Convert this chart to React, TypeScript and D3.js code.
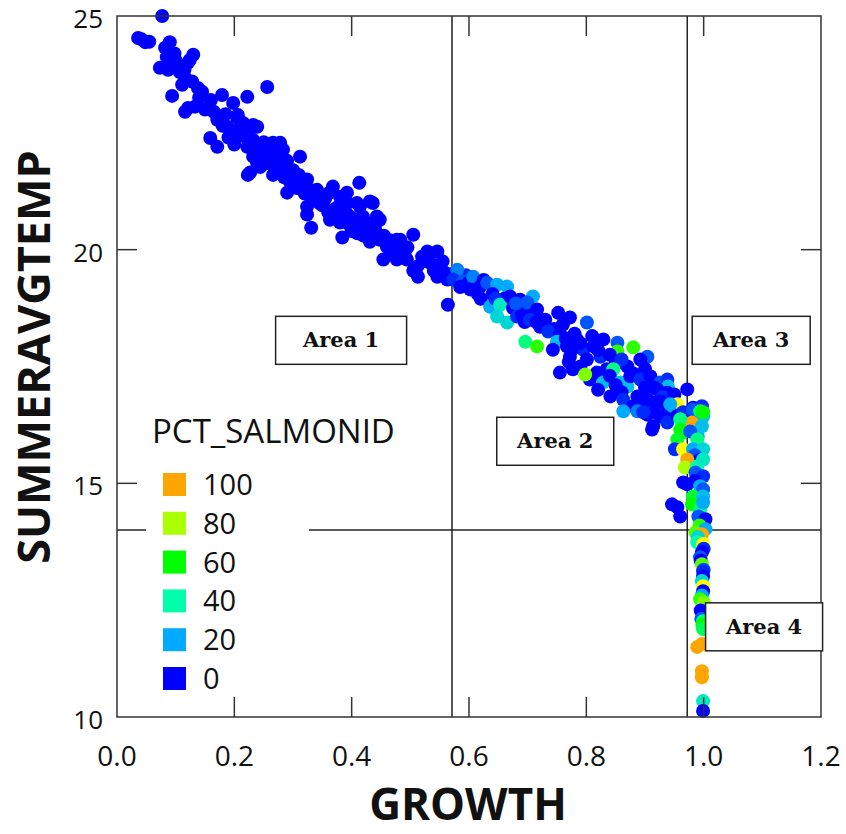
import React from "react";
import { scaleLinear } from "d3";

// growth, summer avg temp, pct salmonid
const upperBand: [number, number, number][] = [
  [0.077, 25.0, 0], [0.036, 24.53, 0], [0.042, 24.5, 0], [0.048, 24.44, 0], [0.055, 24.45, 0],
  [0.09, 24.44, 0], [0.082, 24.32, 0], [0.085, 24.12, 0], [0.098, 24.2, 0], [0.1, 24.05, 0],
  [0.13, 24.17, 0], [0.124, 24.06, 0], [0.073, 23.89, 0], [0.087, 23.85, 0], [0.115, 23.85, 0],
  [0.121, 24.0, 0], [0.105, 23.95, 0], [0.107, 23.8, 0], [0.116, 23.68, 0], [0.128, 23.6, 0],
  [0.138, 23.46, 0], [0.145, 23.38, 0], [0.111, 23.53, 0], [0.094, 23.29, 0], [0.14, 23.25, 0],
  [0.121, 23.03, 0], [0.133, 23.06, 0], [0.116, 22.95, 0], [0.256, 23.48, 0], [0.15, 23.0, 0],
  [0.179, 23.31, 0], [0.198, 23.14, 0], [0.222, 23.27, 0], [0.206, 22.88, 0], [0.165, 22.95, 0],
  [0.185, 22.9, 0], [0.16, 23.2, 0], [0.171, 22.78, 0], [0.188, 22.63, 0], [0.18, 22.65, 0],
  [0.215, 22.71, 0], [0.239, 22.63, 0], [0.205, 22.82, 0], [0.232, 22.67, 0], [0.21, 22.6, 0],
  [0.195, 22.55, 0], [0.159, 22.39, 0], [0.171, 22.2, 0], [0.205, 22.41, 0], [0.19, 22.4, 0],
  [0.215, 22.45, 0], [0.232, 22.35, 0], [0.222, 22.2, 0], [0.244, 22.2, 0], [0.225, 22.45, 0],
  [0.261, 22.2, 0], [0.266, 22.29, 0], [0.278, 22.29, 0], [0.283, 22.14, 0], [0.2, 22.25, 0],
  [0.249, 22.1, 0], [0.261, 22.05, 0], [0.232, 21.99, 0], [0.256, 22.07, 0], [0.235, 22.25, 0],
  [0.273, 21.99, 0], [0.312, 21.99, 0], [0.283, 21.92, 0], [0.249, 21.92, 0], [0.25, 22.3, 0],
  [0.239, 21.85, 0], [0.278, 21.8, 0], [0.227, 21.65, 0], [0.244, 21.77, 0], [0.245, 22.05, 0],
  [0.223, 21.6, 0], [0.266, 21.6, 0], [0.29, 21.65, 0], [0.3, 21.7, 0], [0.255, 21.85, 0],
  [0.3, 21.5, 0], [0.3, 21.35, 0], [0.324, 21.5, 0], [0.315, 21.4, 0], [0.265, 21.9, 0],
  [0.29, 21.22, 0], [0.307, 21.32, 0], [0.329, 21.28, 0], [0.341, 21.28, 0], [0.29, 21.9, 0],
  [0.341, 21.13, 0], [0.324, 20.92, 0], [0.324, 20.75, 0], [0.331, 20.47, 0], [0.27, 21.7, 0],
  [0.368, 21.35, 0], [0.38, 21.13, 0], [0.392, 21.0, 0], [0.355, 21.1, 0], [0.285, 21.55, 0],
  [0.35, 20.95, 0], [0.368, 20.85, 0], [0.363, 20.64, 0], [0.38, 20.58, 0], [0.295, 21.45, 0],
  [0.397, 20.71, 0], [0.414, 20.92, 0], [0.431, 21.03, 0], [0.375, 20.9, 0], [0.31, 21.6, 0],
  [0.39, 20.8, 0], [0.419, 20.71, 0], [0.409, 20.49, 0], [0.413, 21.43, 0], [0.32, 21.2, 0],
  [0.384, 20.26, 0], [0.431, 20.36, 0], [0.448, 20.64, 0], [0.448, 20.21, 0], [0.335, 21.15, 0],
  [0.4, 20.4, 0], [0.42, 20.3, 0], [0.46, 20.06, 0], [0.454, 19.79, 0], [0.345, 21.0, 0],
  [0.477, 20.21, 0], [0.477, 19.79, 0], [0.392, 21.22, 0], [0.409, 21.0, 0], [0.36, 21.2, 0],
  [0.436, 21.0, 0], [0.385, 20.64, 0], [0.443, 20.71, 0], [0.426, 20.36, 0], [0.36, 20.8, 0],
  [0.431, 20.17, 0], [0.37, 20.7, 0], [0.385, 20.95, 0], [0.395, 20.55, 0], [0.405, 20.65, 0],
  [0.41, 20.35, 0], [0.43, 20.55, 0], [0.44, 20.45, 0], [0.455, 20.3, 0], [0.465, 20.2, 0],
  [0.47, 19.95, 0], [0.49, 19.9, 0],
];

const middleBand: [number, number, number][] = [
  [0.483, 20.21, 0], [0.505, 20.32, 0], [0.483, 19.96, 0], [0.495, 20.05, 0], [0.525, 19.75, 0],
  [0.494, 19.79, 0], [0.512, 19.64, 0], [0.513, 19.42, 0], [0.52, 19.85, 0], [0.555, 19.75, 0],
  [0.505, 19.55, 0], [0.529, 19.96, 0], [0.546, 19.96, 0], [0.534, 19.72, 0], [0.575, 19.5, 0],
  [0.551, 19.64, 0], [0.546, 19.42, 0], [0.54, 19.55, 0], [0.56, 19.5, 0], [0.595, 19.45, 5],
  [0.563, 19.36, 0], [0.58, 19.57, 15], [0.573, 19.36, 5], [0.59, 19.32, 10], [0.6, 19.3, 0],
  [0.607, 19.42, 15], [0.585, 19.2, 0], [0.564, 18.82, 0], [0.602, 19.15, 0], [0.625, 19.35, 0],
  [0.619, 19.21, 0], [0.615, 19.05, 0], [0.631, 19.29, 10], [0.648, 19.25, 20], [0.62, 18.95, 0],
  [0.665, 19.21, 20], [0.64, 19.05, 0], [0.66, 18.95, 0], [0.636, 18.78, 20], [0.645, 18.95, 5],
  [0.653, 18.82, 35], [0.648, 18.57, 30], [0.665, 18.44, 30], [0.687, 18.93, 0], [0.67, 19.0, 0],
  [0.675, 18.75, 0], [0.699, 18.72, 0], [0.682, 18.57, 5], [0.69, 18.6, 0], [0.68, 18.85, 10],
  [0.709, 18.57, 0], [0.709, 19.0, 20], [0.699, 18.87, 10], [0.716, 18.72, 0], [0.695, 18.45, 0],
  [0.704, 18.5, 5], [0.721, 18.35, 0], [0.73, 18.5, 0], [0.752, 18.65, 0], [0.715, 18.45, 0],
  [0.745, 18.3, 0], [0.76, 18.4, 0], [0.772, 18.55, 0], [0.78, 18.2, 0], [0.735, 18.25, 5],
  [0.801, 18.44, 10], [0.81, 18.15, 0], [0.696, 18.03, 45], [0.716, 17.93, 65], [0.755, 18.2, 0],
  [0.75, 18.03, 25], [0.743, 17.86, 0], [0.767, 17.93, 0], [0.784, 18.08, 0], [0.765, 18.1, 0],
  [0.795, 17.86, 5], [0.812, 17.93, 0], [0.829, 18.08, 0], [0.772, 17.71, 0], [0.775, 17.85, 0],
  [0.801, 17.65, 0], [0.824, 17.71, 5], [0.853, 18.01, 10], [0.853, 17.82, 65], [0.79, 18.0, 0],
  [0.88, 17.91, 65], [0.904, 17.71, 10], [0.892, 17.65, 0], [0.77, 17.6, 0], [0.82, 17.85, 0],
  [0.79, 17.5, 0], [0.85, 17.55, 0], [0.87, 17.5, 0], [0.9, 17.45, 0], [0.84, 17.75, 0],
  [0.86, 17.65, 5],
];

const kneeColumn: [number, number, number][] = [
  [0.755, 17.37, 0], [0.777, 17.44, 0], [0.806, 17.22, 0], [0.818, 17.37, 0], [0.88, 17.35, 0],
  [0.835, 17.44, 0], [0.798, 17.33, 75], [0.829, 17.16, 25], [0.846, 17.44, 45], [0.84, 17.3, 0],
  [0.858, 17.16, 25], [0.87, 17.07, 25], [0.875, 17.29, 0], [0.892, 17.22, 5], [0.82, 17.0, 0],
  [0.909, 17.29, 0], [0.926, 17.16, 10], [0.938, 17.22, 5], [0.939, 17.07, 25], [0.85, 17.1, 0],
  [0.921, 17.01, 0], [0.915, 17.05, 0], [0.938, 16.94, 0], [0.86, 16.95, 0], [0.9, 17.05, 0],
  [0.841, 16.86, 0], [0.863, 16.79, 5], [0.887, 16.86, 0], [0.88, 16.65, 0], [0.93, 16.85, 5],
  [0.892, 16.65, 0], [0.914, 16.73, 0], [0.863, 16.54, 20], [0.887, 16.54, 15], [0.945, 16.45, 0],
  [0.904, 16.52, 5], [0.926, 16.43, 0], [0.938, 16.65, 0], [0.95, 16.9, 0], [0.97, 16.4, 10],
  [0.948, 16.65, 25], [0.955, 16.69, 90], [0.972, 17.01, 0], [0.914, 16.22, 0], [0.985, 16.45, 0],
  [0.938, 16.3, 5], [0.955, 16.45, 0], [0.905, 16.79, 0], [0.926, 16.75, 0], [0.99, 16.0, 20],
  [0.917, 16.52, 0], [0.904, 16.47, 0], [0.912, 16.15, 0], [0.897, 16.52, 5],
  [0.943, 16.69, 20], [0.965, 16.52, 5], [0.982, 16.62, 0], [0.982, 16.58, 10],
  [0.997, 16.65, 5], [0.994, 16.54, 50], [0.999, 16.43, 25], [0.98, 16.3, 100],
  [0.96, 16.37, 45], [0.997, 16.22, 25], [0.965, 16.09, 60], [0.999, 16.52, 60],
  [0.96, 16.15, 60], [0.977, 16.11, 10], [0.989, 15.94, 45], [0.955, 15.94, 55],
  [0.951, 15.73, 5], [0.965, 15.73, 90], [0.982, 15.73, 20], [0.999, 15.73, 30],
  [0.985, 15.6, 10], [0.993, 15.5, 0],
  [0.972, 15.51, 100], [0.968, 15.34, 80], [0.989, 15.36, 40], [0.999, 15.51, 35],
  [0.986, 15.23, 10], [0.999, 15.15, 5], [0.972, 14.98, 0], [0.965, 15.02, 0], [0.985, 15.05, 0],
  [0.994, 14.94, 20], [0.999, 14.87, 10], [0.982, 14.72, 55], [0.999, 14.72, 25],
  [0.946, 14.55, 0], [0.955, 14.49, 0], [0.96, 14.29, 0], [0.98, 14.55, 60],
  [0.994, 14.44, 45], [0.999, 14.59, 20], [0.991, 14.29, 10], [1.003, 14.23, 0],
  [0.993, 14.1, 65], [1.003, 14.02, 20], [0.986, 13.95, 70], [0.997, 13.91, 100], [0.99, 13.85, 30],
  [0.989, 13.74, 40], [0.999, 13.7, 90], [1.0, 13.6, 5], [0.997, 13.53, 0], [0.994, 13.42, 10],
  [0.995, 13.35, 0], [0.997, 13.27, 70], [1.0, 13.15, 10], [0.999, 13.12, 5], [0.999, 13.01, 0],
  [0.997, 12.91, 30], [0.999, 12.8, 90], [0.999, 12.69, 0], [0.997, 12.6, 20], [0.994, 12.52, 65],
  [1.0, 12.45, 75], [0.999, 12.37, 75], [0.995, 12.28, 0], [0.999, 12.2, 0], [0.996, 12.1, 10],
  [0.999, 12.05, 45], [0.998, 11.98, 60], [0.999, 11.88, 50], [0.989, 11.5, 100],
  [0.997, 11.56, 100], [0.997, 10.98, 100], [0.997, 10.85, 100], [0.999, 10.34, 35],
  [0.999, 10.13, 0],
];

const growthTicks = [0.0, 0.2, 0.4, 0.6, 0.8, 1.0, 1.2];
const tempTicks = [10, 15, 20, 25];
const legendValues = [100, 80, 60, 40, 20, 0];
const colorStops = [0, 20, 40, 60, 80, 90, 100];
const colorRange = ["#0000ff", "#00aaff", "#00ffaa", "#00ff00", "#aaff00", "#ffff00", "#ffa500"];
const growthBreaks = [0.571, 0.972];
const tempBreak = 14;
const areaNames = ["Area 1", "Area 2", "Area 3", "Area 4"];
const areaGrowth = [0.382, 0.747, 1.081, 1.103];
const areaTemp = [18.06, 15.9, 18.06, 11.93];

export default function App() {
  const W = 846;
  const H = 834;
  const x = scaleLinear().domain([0, 1.2]).range([117, 821]);
  const y = scaleLinear().domain([10, 25]).range([717, 16]);
  const color = scaleLinear<string>().domain(colorStops).range(colorRange);
  const points = [...upperBand, ...middleBand, ...kneeColumn];
  const sans = "'Open Sans', 'DejaVu Sans', sans-serif";
  const serif = "'DejaVu Serif', 'Liberation Serif', serif";
  const tick = 20;
  const boxW = [131, 117, 118, 117];

  return (
    <svg width={W} height={H} style={{ position: "absolute", left: 0, top: 0, background: "#fff" }}>
      {/* boundary lines */}
      {growthBreaks.map((g) => (
        <line key={g} x1={x(g)} x2={x(g)} y1={y(25)} y2={y(10)} stroke="#222" strokeWidth={1.5} />
      ))}
      <line x1={x(0)} x2={x(1.2)} y1={y(tempBreak)} y2={y(tempBreak)} stroke="#222" strokeWidth={1.5} />

      {points.map((d, i) => (
        <circle key={i} cx={x(d[0])} cy={y(d[1])} r={7} fill={color(d[2])} />
      ))}

      {/* legend */}
      <rect x={146} y={408} width={163} height={296} fill="#fff" />
      <text x={152} y={443} fontFamily={sans} fontSize={33} fill="#111">PCT_SALMONID</text>
      {legendValues.map((v, i) => (
        <g key={v} transform={`translate(163,${473 + i * 38.8})`}>
          <rect width={23} height={23} fill={color(v)} />
          <text x={40} y={22} fontFamily={sans} fontSize={29} fill="#111">{v}</text>
        </g>
      ))}

      {/* frame and ticks */}
      <rect x={x(0)} y={y(25)} width={x(1.2) - x(0)} height={y(10) - y(25)} fill="none" stroke="#333" strokeWidth={1.5} />
      {growthTicks.slice(1, -1).map((g) => (
        <g key={g}>
          <line x1={x(g)} x2={x(g)} y1={y(10)} y2={y(10) - tick} stroke="#333" strokeWidth={1.5} />
          <line x1={x(g)} x2={x(g)} y1={y(25)} y2={y(25) + tick} stroke="#333" strokeWidth={1.5} />
        </g>
      ))}
      {tempTicks.slice(1, -1).map((t) => (
        <g key={t}>
          <line x1={x(0)} x2={x(0) + tick} y1={y(t)} y2={y(t)} stroke="#333" strokeWidth={1.5} />
          <line x1={x(1.2)} x2={x(1.2) - tick} y1={y(t)} y2={y(t)} stroke="#333" strokeWidth={1.5} />
        </g>
      ))}
      {growthTicks.map((g) => (
        <text key={g} x={x(g)} y={766} textAnchor="middle" fontFamily={sans} fontSize={28} fill="#111">
          {g.toFixed(1)}
        </text>
      ))}
      {tempTicks.map((t) => (
        <text key={t} x={103} y={y(t) + 12} textAnchor="end" fontFamily={sans} fontSize={26} fill="#111">
          {t}
        </text>
      ))}

      {/* area labels */}
      {areaNames.map((name, i) => {
        const cx = x(areaGrowth[i]);
        const cy = y(areaTemp[i]);
        return (
          <g key={name}>
            <rect x={cx - boxW[i] / 2} y={cy - 24} width={boxW[i]} height={48} fill="#fff" stroke="#222" strokeWidth={1.5} />
            <text x={cx} y={cy + 7} textAnchor="middle" fontFamily={serif} fontWeight="bold" fontSize={21} fill="#111">
              {name}
            </text>
          </g>
        );
      })}

      {/* axis titles */}
      <text x={468} y={820} textAnchor="middle" fontFamily={sans} fontWeight="bold" fontSize={44} fill="#111">
        GROWTH
      </text>
      <text transform="translate(50,357) rotate(-90)" textAnchor="middle" fontFamily={sans} fontWeight="bold" fontSize={45} fill="#111">
        SUMMERAVGTEMP
      </text>
    </svg>
  );
}
